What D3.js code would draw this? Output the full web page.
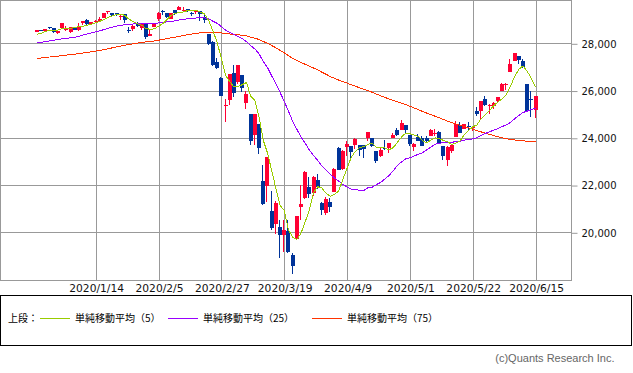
<!DOCTYPE html>
<html>
<head>
<meta charset="utf-8">
<script src="https://cdn.jsdelivr.net/npm/d3@7"></script>
<style>
  body{margin:0;background:#fff;}
  svg{display:block;}
</style>
</head>
<body>
<div class="chart"></div>
<script>
//Trading days shown on the chart
var dates = ["2019/12/23","2019/12/24","2019/12/26","2019/12/27","2019/12/30","2019/12/31",
  "2020/1/2","2020/1/3","2020/1/6","2020/1/7","2020/1/8","2020/1/9","2020/1/10","2020/1/13","2020/1/14","2020/1/15",
  "2020/1/16","2020/1/17","2020/1/21","2020/1/22","2020/1/23","2020/1/24","2020/1/27","2020/1/28","2020/1/29","2020/1/30","2020/1/31",
  "2020/2/3","2020/2/4","2020/2/5","2020/2/6","2020/2/7","2020/2/10","2020/2/11","2020/2/12","2020/2/13","2020/2/14",
  "2020/2/18","2020/2/19","2020/2/20","2020/2/21","2020/2/24","2020/2/25","2020/2/26","2020/2/27","2020/2/28",
  "2020/3/2","2020/3/3","2020/3/4","2020/3/5","2020/3/6","2020/3/9","2020/3/10","2020/3/11","2020/3/12","2020/3/13",
  "2020/3/16","2020/3/17","2020/3/18","2020/3/19","2020/3/20","2020/3/23","2020/3/24","2020/3/25","2020/3/26","2020/3/27",
  "2020/3/30","2020/3/31","2020/4/1","2020/4/2","2020/4/3","2020/4/6","2020/4/7","2020/4/8","2020/4/9","2020/4/13",
  "2020/4/14","2020/4/15","2020/4/16","2020/4/17","2020/4/20","2020/4/21","2020/4/22","2020/4/23","2020/4/24","2020/4/27",
  "2020/4/28","2020/4/29","2020/4/30","2020/5/1","2020/5/4","2020/5/5","2020/5/6","2020/5/7","2020/5/8","2020/5/11",
  "2020/5/12","2020/5/13","2020/5/14","2020/5/15","2020/5/18","2020/5/19","2020/5/20","2020/5/21","2020/5/22","2020/5/26",
  "2020/5/27","2020/5/28","2020/5/29","2020/6/1","2020/6/2","2020/6/3","2020/6/4","2020/6/5","2020/6/8","2020/6/9",
  "2020/6/10","2020/6/11","2020/6/12","2020/6/15"];

//Candles
var open = [28491,28572,28539,28676,28654,28415,28638,28553,28465,28639,
  28556,28851,28995,28823,28903,28939,29073,29332,29284,29263,
  29137,29232,28583,28590,28820,28640,28813,28319,28696,29048,
  29388,29286,29019,29390,29406,29396,29440,29279,29318,29351,
  29120,28402,28053,27188,26526,25390,25590,26762,26383,26671,
  25457,24992,24100,24604,22184,21973,20917,20345,20222,19903,
  20050,19028,19722,21050,21468,21898,21678,22208,21227,20819,
  21285,21693,23560,22700,23630,23661,23685,23685,23684,24000,
  24006,23454,23235,23549,23556,23971,24345,24327,24544,24120,
  23617,24015,23983,23993,24096,24150,24251,23640,23049,23441,
  24052,24555,24352,24505,24419,25151,25120,25635,25348,25342,
  25573,25965,26265,26800,27232,27447,27251,26282,25659,25193];
var high = [28582,28576,28624,28701,28664,28547,28872,28716,28708,28685,
  28866,28958,29009,28908,29000,29120,29300,29374,29300,29289,
  29207,29246,28699,28774,28892,28879,28813,28592,28847,29306,
  29408,29286,29277,29416,29568,29528,29463,29333,29409,29371,
  29181,28402,28107,27361,26562,25654,26706,27083,27102,26671,
  25994,24992,25020,24604,22837,23186,21768,21345,20500,20531,
  20531,19122,20705,22019,22595,22327,22378,22480,21285,21477,
  21447,22711,23592,23473,23856,23661,23975,23685,23684,24264,
  24006,23454,23593,23925,23791,24183,24427,24744,24554,24120,
  23766,24170,24079,24087,24352,24369,24286,23656,23639,23687,
  24715,24674,24594,24655,24475,25314,25548,25758,25432,25495,
  25743,26324,26330,27338,27580,27447,27354,26282,26000,25786];
var low = [28491,28503,28535,28608,28428,28376,28627,28500,28418,28565,
  28502,28779,28783,28782,28869,28905,29073,29231,29122,29153,
  28992,28843,28440,28533,28698,28567,28169,28319,28696,28946,
  29188,29056,29019,29190,29406,29366,29337,29150,29232,28929,
  28840,27921,27058,26892,25762,24681,25391,25706,26286,25943,
  25226,23706,23690,23328,21154,21285,20116,19937,18917,19177,
  19139,18214,19722,20538,21427,21469,21522,21845,20735,20734,
  20863,21693,22631,22630,23240,23089,23520,23247,23152,23855,
  23621,22941,23197,23488,23347,23971,24076,24323,24180,23645,
  23433,23864,23664,23838,24096,24073,23764,23052,22789,23362,
  24052,24204,24352,24307,24298,24924,24816,25358,24997,25240,
  25459,25965,26034,26780,27232,27117,26956,25082,24884,24843];
var close = [28551,28515,28621,28645,28462,28538,28869,28635,28703,28584,
  28745,28957,28824,28907,28940,29030,29298,29348,29196,29186,
  29160,28990,28536,28723,28734,28859,28256,28400,28808,29291,
  29380,29103,29277,29276,29551,29423,29398,29232,29348,29220,
  28992,27961,27081,26958,25767,25409,26703,25917,27091,26121,
  25865,23851,25018,23553,21201,23186,20189,21237,19899,20087,
  19174,18592,20705,21201,22552,21637,22327,21917,20944,21413,
  21053,22680,22654,23434,23719,23391,23950,23504,23538,24242,
  23650,23019,23476,23515,23775,24134,24102,24634,24346,23724,
  23750,23883,23665,23876,24331,24222,23765,23248,23625,23685,
  24597,24207,24576,24474,24465,24995,25548,25401,25383,25475,
  25743,26270,26282,27111,27572,27272,26990,25128,25606,25763];

//Moving averages
var ma5 = [28378,28427,28504,28557,28559,28556,28627,28630,28641,28666,
  28707,28725,28763,28803,28875,28932,29000,29105,29162,29212,
  29238,29176,29014,28919,28829,28768,28622,28594,28611,28723,
  28827,28996,29172,29265,29317,29326,29385,29376,29390,29324,
  29238,28951,28520,28042,27352,26635,26384,26151,26177,26248,
  26339,25769,25589,24882,23898,23362,22629,21873,21142,20920,
  20117,19798,19691,19952,20445,20937,21684,21927,21875,21648,
  21531,21601,21749,22247,22708,23176,23430,23600,23620,23725,
  23777,23591,23585,23580,23487,23584,23800,24032,24198,24188,
  24111,24067,23874,23780,23901,23995,23972,23888,23838,23709,
  23784,23872,24138,24308,24464,24543,24812,24977,25158,25360,
  25510,25654,25831,26176,26596,26901,27045,26815,26514,26152];
var ma25 = [28022,28042,28069,28102,28130,28156,28188,28209,28230,28252,
  28290,28348,28395,28445,28482,28526,28583,28641,28683,28725,
  28762,28791,28803,28817,28828,28840,28830,28821,28828,28861,
  28894,28904,28929,28952,28991,29018,29036,29052,29070,29081,
  29079,29026,28935,28846,28709,28559,28467,28363,28297,28193,
  28073,27897,27762,27551,27228,26980,26624,26302,25927,25548,
  25138,24706,24365,24039,23772,23478,23253,23046,22806,22632,
  22457,22296,22166,22020,21924,21825,21829,21768,21767,21889,
  21908,22021,22110,22255,22402,22601,22821,22978,23104,23151,
  23236,23298,23368,23485,23602,23729,23772,23796,23803,23802,
  23850,23861,23903,23941,23950,24004,24105,24182,24256,24324,
  24389,24476,24541,24652,24806,24947,25071,25130,25199,25256];
var ma75 = [27355,27377,27400,27420,27437,27455,27479,27499,27520,27540,
  27564,27591,27617,27643,27671,27700,27732,27769,27810,27850,
  27885,27918,27950,27981,28011,28038,28058,28076,28100,28131,
  28165,28196,28229,28262,28298,28331,28362,28391,28419,28448,
  28470,28477,28472,28464,28439,28409,28395,28372,28363,28340,
  28312,28256,28217,28160,28073,28010,27905,27813,27703,27597,
  27482,27363,27271,27185,27112,27028,26954,26874,26778,26689,
  26593,26518,26444,26378,26315,26246,26185,26117,26049,25993,
  25927,25849,25781,25711,25647,25586,25521,25465,25404,25335,
  25264,25192,25116,25046,24981,24915,24845,24775,24707,24639,
  24583,24529,24478,24420,24356,24297,24250,24198,24146,24092,
  24043,24001,23962,23932,23910,23887,23874,23848,23830,23830];

//Axis ticks
var tickDates = ["2020/1/14","2020/2/5","2020/2/27","2020/3/19","2020/4/9","2020/5/1","2020/5/22","2020/6/15"];
var tickValues = [20000,22000,24000,26000,28000];

//Legend
var legendLabels = ["単純移動平均（5）","単純移動平均（25）","単純移動平均（75）"];
var legendColors = ["#99cc00","#9900ff","#ff3300"];

function init(){
  var w = 633;
  var h = 373;
  var plotW = 571;
  var plotH = 280;
  var upColor = "#ff0033";
  var downColor = "#003399";
  var gridColor = "#999999";

  var svg = d3.select(".chart")
              .append("svg")
              .attr("width", w)
              .attr("height", h);

  var x = d3.scalePoint()
            .domain(dates)
            .range([37, 535.6]);

  var y = d3.scaleLinear()
            .domain([20000, 28000])
            .range([232.3, 43.3]);

  svg.append("defs").append("clipPath")
      .attr("id", "clip")
      .append("rect")
      .attr("x", 0)
      .attr("y", 0)
      .attr("width", plotW + 1)
      .attr("height", plotH + 1);

  //Grid lines
  svg.append("g")
      .selectAll("line")
      .data(tickValues)
      .enter()
      .append("line")
      .attr("x1", 0)
      .attr("x2", plotW)
      .attr("y1", function(d){ return Math.round(y(d)) + 0.5; })
      .attr("y2", function(d){ return Math.round(y(d)) + 0.5; })
      .attr("stroke", gridColor);

  svg.append("g")
      .selectAll("line")
      .data(tickDates)
      .enter()
      .append("line")
      .attr("x1", function(d){ return Math.round(x(d)) + 0.5; })
      .attr("x2", function(d){ return Math.round(x(d)) + 0.5; })
      .attr("y1", 0)
      .attr("y2", plotH)
      .attr("stroke", gridColor);

  //Frame of the plot
  svg.append("rect")
      .attr("x", 0.5)
      .attr("y", 0.5)
      .attr("width", plotW)
      .attr("height", plotH)
      .attr("fill", "none")
      .attr("stroke", gridColor);

  //Right axis
  var yAxis = d3.axisRight(y)
                .tickValues(tickValues)
                .tickSize(6)
                .tickPadding(4)
                .tickFormat(d3.format(","));

  var ya = svg.append("g")
      .attr("transform", "translate(" + (plotW + 0.5) + ",0.5)")
      .style("font-family", "DejaVu Sans")
      .style("font-size", "10px")
      .call(yAxis);
  ya.select(".domain").remove();
  ya.selectAll(".tick line").attr("stroke", gridColor);
  ya.selectAll(".tick text").attr("fill", "#111");

  //Date labels
  svg.append("g")
      .selectAll("text")
      .data(tickDates)
      .enter()
      .append("text")
      .attr("x", function(d){ return x(d) + 1; })
      .attr("y", 291.5)
      .attr("text-anchor", "middle")
      .style("font-family", "DejaVu Sans")
      .style("font-size", "10.7px")
      .attr("fill", "#111")
      .text(function(d){ return d; });

  //Candles
  var candles = svg.append("g")
      .attr("clip-path", "url(#clip)")
      .attr("shape-rendering", "crispEdges");

  var idx = d3.range(dates.length);

  candles.selectAll(".wick")
      .data(idx)
      .enter()
      .append("rect")
      .attr("class", "wick")
      .attr("x", function(i){ return Math.round(x(dates[i])) - 1; })
      .attr("y", function(i){ return y(high[i]); })
      .attr("width", 1)
      .attr("height", function(i){ return Math.max(1, y(low[i]) - y(high[i])); })
      .attr("fill", function(i){ return close[i] >= open[i] ? upColor : downColor; });

  candles.selectAll(".body")
      .data(idx)
      .enter()
      .append("rect")
      .attr("class", "body")
      .attr("x", function(i){ return Math.round(x(dates[i])) - 2; })
      .attr("y", function(i){ return y(Math.max(open[i], close[i])); })
      .attr("width", 4)
      .attr("height", function(i){ return Math.max(1, Math.abs(y(open[i]) - y(close[i]))); })
      .attr("fill", function(i){ return close[i] >= open[i] ? upColor : downColor; });

  //Moving average lines
  var line = d3.line()
               .x(function(d, i){ return x(dates[i]); })
               .y(function(d){ return y(d); });

  var lines = svg.append("g").attr("clip-path", "url(#clip)");
  [ma75, ma25, ma5].forEach(function(series, k){
    lines.append("path")
        .datum(series)
        .attr("d", line)
        .attr("fill", "none")
        .attr("stroke", legendColors[2 - k])
        .attr("stroke-width", 1)
        .attr("shape-rendering", "crispEdges");
  });

  //Legend box
  var legend = svg.append("g");
  legend.append("rect")
      .attr("x", 0.5)
      .attr("y", 295.5)
      .attr("width", 631)
      .attr("height", 50)
      .attr("fill", "none")
      .attr("stroke", "#000");

  legend.append("text")
      .attr("x", 8)
      .attr("y", 322)
      .style("font-family", "Noto Sans CJK JP")
      .style("font-size", "10px")
      .text("上段：");

  var legendX = [40, 168, 312];
  legendLabels.forEach(function(label, i){
    legend.append("line")
        .attr("x1", legendX[i])
        .attr("x2", legendX[i] + 30)
        .attr("y1", 318.5)
        .attr("y2", 318.5)
        .attr("stroke", legendColors[i]);
    legend.append("text")
        .attr("x", legendX[i] + 35)
        .attr("y", 322)
        .style("font-family", "Noto Sans CJK JP")
        .style("font-size", "10px")
        .text(label);
  });

  //Copyright
  svg.append("text")
      .attr("x", 614.5)
      .attr("y", 362)
      .attr("text-anchor", "end")
      .style("font-family", "Liberation Sans")
      .style("font-size", "11px")
      .attr("fill", "#666")
      .text("(c)Quants Research Inc.");
}

window.onload = init;
</script>
</body>
</html>
